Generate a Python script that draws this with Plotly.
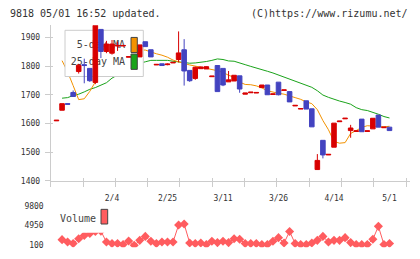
import plotly.graph_objects as go

# ---------------- data ----------------
date_labels = ['2/4', '2/25', '3/11', '3/26', '4/14', '5/1']
date_label_idx = [10, 20, 30, 40, 50, 60]

opens = [1609, 1646, 1669, 1708, 1781, 1805, 1792, 1743, 1928, 1851,
         1845, 1870, 1870, 1831, None, 1832, 1885, 1857, 1804, 1808,
         1805, 1811, 1823, 1857, 1785, 1757, 1791, 1790, 1763, 1802,
         1792, 1745, 1748, 1766, 1702, 1707, 1706, 1725, 1734, 1701,
         1744, 1715, 1711, 1661, 1650, 1679, 1651, 1439, 1541, 1490,
         1517, 1606, 1616, 1575, 1572, 1615, 1572, 1581, 1629, 1585,
         1587]
highs = [1611, 1669, 1669, 1715, 1808, 1826, 1792, 1950, 1928, 1888,
         1891, 1885, 1872, 1833, None, 1874, 1885, 1857, 1806, 1808,
         1809, 1813, 1921, 1894, 1785, 1798, 1798, 1799, 1765, 1802,
         1792, 1783, 1768, 1766, 1706, 1709, 1708, 1734, 1734, 1703,
         1744, 1717, 1711, 1663, 1652, 1679, 1651, 1493, 1541, 1492,
         1601, 1608, 1618, 1595, 1574, 1615, 1574, 1618, 1629, 1587,
         1587]
lows = [1609, 1646, 1667, 1694, 1774, 1740, 1745, 1737, 1828, 1845,
        1840, 1853, 1870, 1831, None, 1832, 1868, 1832, 1804, 1802,
        1803, 1811, 1813, 1732, 1745, 1752, 1791, 1790, 1763, 1711,
        1730, 1745, 1748, 1707, 1702, 1707, 1706, 1725, 1700, 1701,
        1698, 1715, 1675, 1661, 1650, 1650, 1588, 1439, 1478, 1490,
        1517, 1606, 1616, 1550, 1572, 1571, 1572, 1581, 1587, 1585,
        1575]
closes = [1611, 1669, 1667, 1694, 1803, 1802, 1749, 1945, 1851, 1877,
          1877, 1872, 1872, 1833, None, 1874, 1868, 1832, 1806, 1802,
          1807, 1813, 1846, 1783, 1749, 1796, 1797, 1798, 1765, 1711,
          1734, 1752, 1768, 1720, 1706, 1709, 1708, 1734, 1700, 1703,
          1700, 1717, 1675, 1663, 1652, 1650, 1588, 1471, 1490, 1492,
          1601, 1608, 1618, 1584, 1574, 1571, 1574, 1618, 1587, 1587,
          1575]
ma5 = [None, 1819, 1780, 1732, 1683, 1686, 1712, 1745, 1795, 1830,
       1850, 1862, 1870, 1868, 1862, 1856, 1856, 1849, 1843, 1838,
       1831, 1821, 1814, 1809, 1804, 1800, 1798, 1794, 1789, 1784,
       1778, 1768, 1761, 1744, 1736, 1735, 1731, 1724, 1714, 1709,
       1705, 1702, 1697, 1690, 1684, 1675, 1669, 1648, 1610, 1578,
       1537, 1531, 1533, 1565, 1575, 1586, 1592, 1590, 1589, 1588,
       1590]
ma25 = [None, 1688, 1690, 1697, 1702, 1710, 1719, 1725, 1733, 1742,
        1758, 1770, 1780, 1790, 1800, 1810, 1815, 1820, 1820, 1820,
        1820, 1817, 1814, 1811, 1810, 1811, 1813, 1816, 1820, 1825,
        1823, 1818, 1817, 1812, 1805, 1799, 1794, 1788, 1782, 1776,
        1769, 1763, 1756, 1748, 1741, 1735, 1726, 1714, 1699, 1691,
        1684, 1678, 1673, 1667, 1655, 1648, 1645, 1639, 1632, 1624,
        1619]
volume = [None, 1480, 900, 510, 1720, 2530, 3000, 3500, 3600, 900,
          510, 510, 270, 1140, 100, 1310, 2280, 1070, 510, 900,
          900, 900, 5120, 5360, 660, 510, 660, 270, 1070, 750,
          1070, 750, 1720, 1560, 510, 510, 510, 270, 270, 1070,
          1970, 660, 3500, 510, 270, 270, 660, 1310, 2280, 900,
          1310, 1310, 1970, 750, 270, 270, 270, 1560, 4780, 270,
          510]
price_ticks = [1400, 1500, 1600, 1700, 1800, 1900]
vol_ticks = [100, 4950, 9800]
vol_tick_text = ['100', '4950', '9800']

idx = list(range(len(closes)))

# ---------------- geometry / style ----------------
W, H = 420, 259
def px(x):
    return x / W
def py(y):
    return 1 - y / H

PLOT_L, PLOT_R = 50.7, 410.0
MAIN_TOP, MAIN_BOT = 25.0, 184.0
VOL_TOP, VOL_BOT = 207.0, 252.0
C0, STEP = 56.5, 5.55           # first candle centre (px) and spacing (px)
XL = (PLOT_L - C0) / STEP
XR = (PLOT_R - C0) / STEP
DIV = 32.3                      # px between x-axis division ticks
div_px = [PLOT_L + k * DIV for k in range(12)]
div_idx = [(p - C0) / STEP for p in div_px]

Y_SCALE = 146.7 / 500.0         # px per yen
Y_TOP = 1400 + (MAIN_BOT - MAIN_TOP) / Y_SCALE
V_SCALE = 9700 / 40.0           # volume per px
V_LO = 100 - (VOL_BOT - 250) * V_SCALE
V_HI = 9800 + (210 - VOL_TOP) * V_SCALE

RED = '#d80000'
BLUE = '#4343c0'
ORANGE = '#f39200'
GREEN = '#1aa31a'
VOLC = '#ff5c5f'
AXC = '#cccccc'
TXT = '#333333'
MONO = 'DejaVu Sans Mono'

xdom = [px(PLOT_L), px(PLOT_R)]

fig = go.Figure()

# moving averages (main subplot, drawn first)
fig.add_trace(go.Scatter(x=idx, y=ma25, mode='lines', line=dict(color=GREEN, width=1),
                         xaxis='x', yaxis='y', hoverinfo='skip'))
fig.add_trace(go.Scatter(x=idx, y=ma5, mode='lines', line=dict(color=ORANGE, width=1),
                         xaxis='x', yaxis='y', hoverinfo='skip'))

# legend box (overlay subplot in pixel coordinates) - above MA lines, below candles
bx0, bx1, by0, by1 = 65, 143.3, 30, 77.3
fig.add_trace(go.Scatter(x=[bx0, bx1, bx1, bx0, bx0], y=[by0, by0, by1, by1, by0],
                         mode='lines', fill='toself', fillcolor='white',
                         line=dict(color=AXC, width=1), xaxis='x2', yaxis='y2',
                         hoverinfo='skip'))
fig.add_trace(go.Scatter(x=[125, 125], y=[45.7, 63.3], text=['5-day MA', '25-day MA'],
                         mode='text', textposition='middle left',
                         textfont=dict(family=MONO, size=10, color='#444444'),
                         xaxis='x2', yaxis='y2', hoverinfo='skip'))

# candles (top overlay)
fig.add_trace(go.Candlestick(x=idx, open=opens, high=highs, low=lows, close=closes,
                             xaxis='x3', yaxis='y3',
                             increasing=dict(line=dict(color=RED, width=1), fillcolor=RED),
                             decreasing=dict(line=dict(color=BLUE, width=1), fillcolor=BLUE),
                             whiskerwidth=0, hoverinfo='skip'))

# volume
fig.add_trace(go.Scatter(x=idx, y=volume, mode='lines+markers',
                         line=dict(color=VOLC, width=1),
                         marker=dict(symbol='diamond', size=7, color=VOLC),
                         xaxis='x4', yaxis='y4', hoverinfo='skip'))

noax = dict(showgrid=False, zeroline=False)
fig.update_layout(
    width=W, height=H, margin=dict(l=0, r=0, t=0, b=0),
    paper_bgcolor='white', plot_bgcolor='white', showlegend=False,
    boxgap=0.18, boxgroupgap=0,
    xaxis=dict(domain=xdom, range=[XL, XR], anchor='y', tickmode='array', tickvals=div_idx,
               ticks='outside', ticklen=5, tickcolor=AXC, showticklabels=False,
               showline=True, linecolor=AXC, linewidth=1, **noax),
    yaxis=dict(domain=[py(MAIN_BOT), py(MAIN_TOP)], range=[1400, Y_TOP], anchor='x',
               tickmode='array', tickvals=price_ticks, ticks='outside', ticklen=5,
               tickcolor=AXC, showline=True, linecolor=AXC, linewidth=1,
               tickfont=dict(family=MONO, size=8, color=TXT), ticklabelstandoff=3, **noax),
    xaxis2=dict(overlaying='x', range=[PLOT_L, PLOT_R], anchor='y2', tickmode='array',
                tickvals=div_px, ticks='inside', ticklen=3, tickcolor=AXC,
                showticklabels=False, showline=False, **noax),
    yaxis2=dict(overlaying='y', range=[MAIN_BOT, MAIN_TOP], anchor='x2', visible=False, **noax),
    xaxis3=dict(overlaying='x', range=[XL, XR], anchor='y3', tickmode='array',
                tickvals=date_label_idx, ticktext=date_labels, ticks='',
                tickfont=dict(family=MONO, size=8, color=TXT), ticklabelstandoff=11,
                showline=False, rangeslider=dict(visible=False), **noax),
    yaxis3=dict(overlaying='y', range=[1400, Y_TOP], anchor='x3', tickmode='array',
                tickvals=price_ticks, ticks='inside', ticklen=2, tickcolor=AXC,
                showticklabels=False, showline=False, **noax),
    xaxis4=dict(domain=xdom, range=[XL, XR], anchor='y4', visible=False, **noax),
    yaxis4=dict(domain=[py(VOL_BOT), py(VOL_TOP)], range=[V_LO, V_HI], anchor='x4',
                tickmode='array', tickvals=vol_ticks, ticktext=vol_tick_text, ticks='',
                showline=False, tickfont=dict(family=MONO, size=8, color=TXT),
                ticklabelstandoff=6, **noax),
)

shapes = [
    # volume legend background
    dict(type='rect', xref='paper', yref='paper', x0=px(55), x1=px(112), y0=py(237.3), y1=py(205),
         fillcolor='white', line=dict(width=0), layer='above'),
    # legend swatches
    dict(type='rect', xref='paper', yref='paper', x0=px(131), x1=px(137.3), y0=py(52.7), y1=py(37.3),
         fillcolor=ORANGE, line=dict(color='#444444', width=1), layer='above'),
    dict(type='rect', xref='paper', yref='paper', x0=px(131), x1=px(137.3), y0=py(70), y1=py(54.3),
         fillcolor=GREEN, line=dict(color='#444444', width=1), layer='above'),
    dict(type='rect', xref='paper', yref='paper', x0=px(101), x1=px(107.7), y0=py(228.3), y1=py(213.3),
         fillcolor=VOLC, line=dict(color='#444444', width=1), layer='above'),
]
fig.update_layout(shapes=shapes)

fig.update_layout(annotations=[
    dict(text='9818 05/01 16:52 updated.', xref='paper', yref='paper', x=px(8.3), y=py(12.7),
         xanchor='left', yanchor='middle', showarrow=False,
         font=dict(family=MONO, size=10, color=TXT)),
    dict(text='(C)https://www.rizumu.net/', xref='paper', yref='paper', x=px(410), y=py(12.7),
         xanchor='right', yanchor='middle', showarrow=False,
         font=dict(family=MONO, size=10, color=TXT)),
    dict(text='Volume', xref='paper', yref='paper', x=px(57.5), y=py(222.3),
         xanchor='left', yanchor='middle', showarrow=False,
         font=dict(family=MONO, size=10, color='#444444')),
])

page_css = ("var s=document.createElement('style');"
            "s.innerHTML='html,body{margin:0;padding:0;overflow:hidden;width:420px;height:259px;}"
            "body>div{width:420px;height:259px;overflow:hidden;line-height:0;}';"
            "document.head.appendChild(s);")
fig.write_html('out.html', config={'displayModeBar': False}, post_script=page_css)
